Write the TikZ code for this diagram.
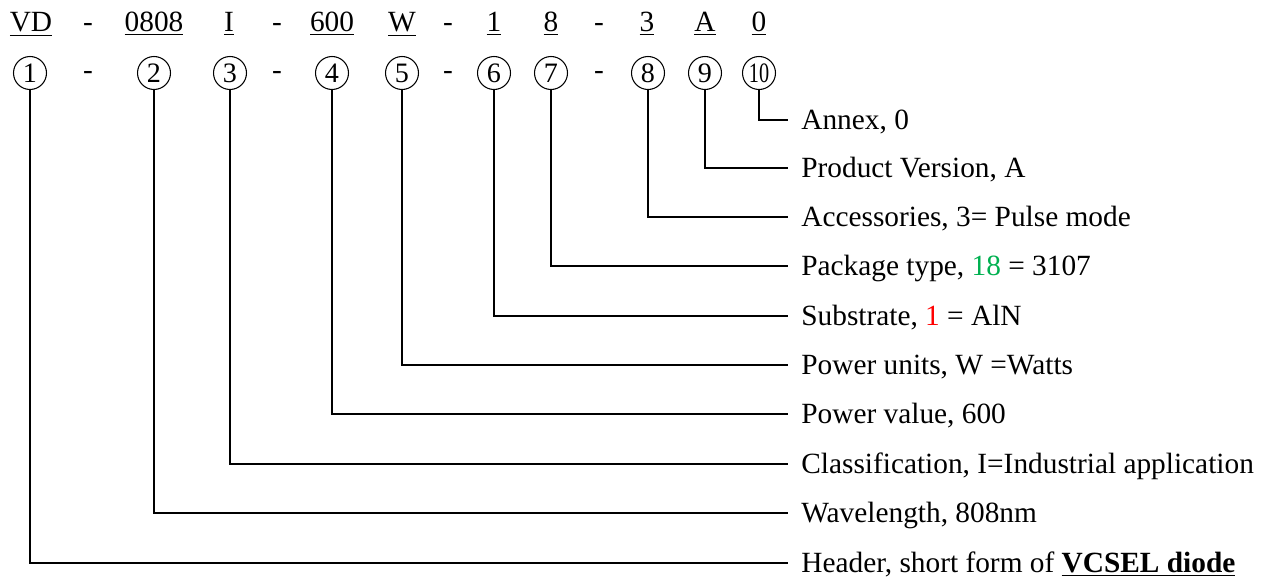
\documentclass[tikz,border=0pt]{standalone}
\usepackage{fontspec}
\setmainfont{Liberation Serif}
\usepackage{tikz}
\definecolor{pkggreen}{RGB}{0,176,80}
\definecolor{subred}{RGB}{255,0,0}

\begin{document}
\begin{tikzpicture}[x=0.02cm, y=-0.02cm]
\tikzstyle{code}=[anchor=base, inner sep=0pt, font=\fontsize{16.7}{20}\selectfont]
\tikzstyle{num}=[circle, draw, line width=0.6pt, minimum size=0.66cm, inner sep=0pt, font=\fontsize{16}{18}\selectfont]
\tikzstyle{txt}=[anchor=west, inner xsep=0.26cm, inner ysep=0pt, text height=0.39cm, text depth=0pt, font=\fontsize{16.7}{20}\selectfont]
\tikzstyle{ln}=[line width=0.9pt]
\useasboundingbox (0,0) rectangle (1266,581);

% part number
\node[code] (vd) at (31,32) {\underline{VD}};
\node[code] (h1) at (88,32) {-};
\node[code] (wl) at (154,32) {\underline{0808}};
\node[code] (cl) at (229,32) {\underline{I}};
\node[code] (h2) at (277,32) {-};
\node[code] (pv) at (332,32) {\underline{600}};
\node[code] (pu) at (402,32) {\underline{W}};
\node[code] (h3) at (448,32) {-};
\node[code] (sb) at (494,32) {\underline{1}};
\node[code] (pk) at (551,32) {\underline{8}};
\node[code] (h4) at (599,32) {-};
\node[code] (ac) at (647,32) {\underline{3}};
\node[code] (ve) at (705,32) {\underline{A}};
\node[code] (an) at (759,32) {\underline{0}};

% circled numbers
\node[num] (c1) at (30,73) {1};
\node[code] (g1) at (88,79) {-};
\node[num] (c2) at (154,73) {2};
\node[num] (c3) at (230,73) {3};
\node[code] (g2) at (277,79) {-};
\node[num] (c4) at (332,73) {4};
\node[num] (c5) at (402,73) {5};
\node[code] (g3) at (448,79) {-};
\node[num] (c6) at (494,73) {6};
\node[num] (c7) at (551,73) {7};
\node[code] (g4) at (599,79) {-};
\node[num] (c8) at (648,73) {8};
\node[num] (c9) at (705,73) {9};
\node[num] (c10) at (759,73) {\scalebox{0.72}[1]{10}};

% descriptions
\node[txt] (t10) at (788,120) {Annex, 0};
\node[txt] (t9) at (788,168) {Product Version, A};
\node[txt] (t8) at (788,217) {Accessories, 3= Pulse mode};
\node[txt] (t7) at (788,266) {Package type, \textcolor{pkggreen}{18} = 3107};
\node[txt] (t6) at (788,316) {Substrate, \textcolor{subred}{1} = AlN};
\node[txt] (t5) at (788,365) {Power units, W =Watts};
\node[txt] (t4) at (788,414) {Power value, 600};
\node[txt] (t3) at (788,464) {Classification, I=Industrial application};
\node[txt] (t2) at (788,513) {Wavelength, 808nm};
\node[txt] (t1) at (788,563) {Header, short form of \textbf{\underline{VCSEL diode}}};

\draw[ln] (c1.south) |- (t1.west);
\draw[ln] (c2.south) |- (t2.west);
\draw[ln] (c3.south) |- (t3.west);
\draw[ln] (c4.south) |- (t4.west);
\draw[ln] (c5.south) |- (t5.west);
\draw[ln] (c6.south) |- (t6.west);
\draw[ln] (c7.south) |- (t7.west);
\draw[ln] (c8.south) |- (t8.west);
\draw[ln] (c9.south) |- (t9.west);
\draw[ln] (c10.south) |- (t10.west);
\end{tikzpicture}
\end{document}
